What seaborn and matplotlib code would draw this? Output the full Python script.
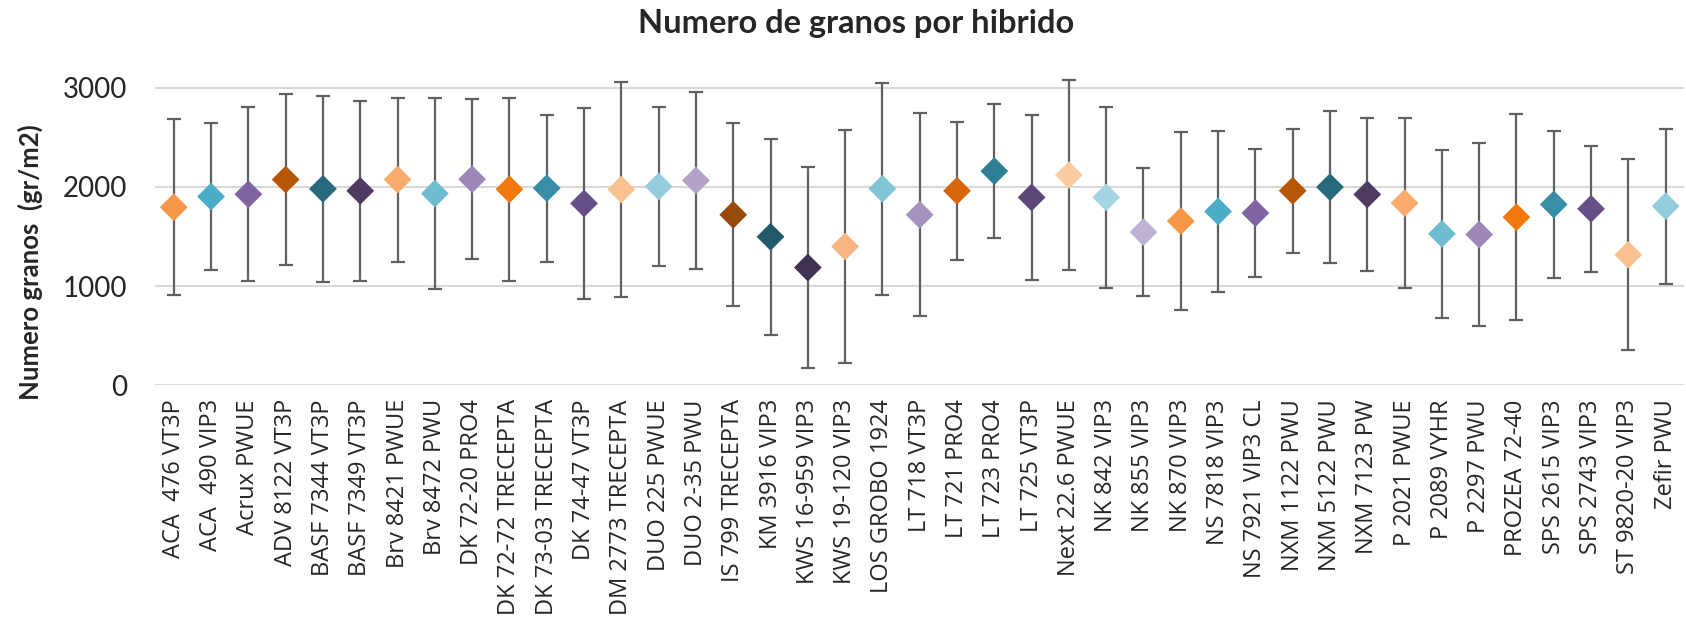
import matplotlib
matplotlib.use("Agg")
import matplotlib.pyplot as plt
import numpy as np
import pandas as pd
import seaborn as sns

# Hybrid names (x axis)
hibridos = [
    "ACA  476 VT3P", "ACA  490 VIP3", "Acrux PWUE", "ADV 8122 VT3P",
    "BASF 7344 VT3P", "BASF 7349 VT3P", "Brv 8421 PWUE", "Brv 8472 PWU",
    "DK 72-20 PRO4", "DK 72-72 TRECEPTA", "DK 73-03 TRECEPTA", "DK 74-47 VT3P",
    "DM 2773 TRECEPTA", "DUO 225 PWUE", "DUO 2-35 PWU", "IS 799 TRECEPTA",
    "KM 3916 VIP3", "KWS 16-959 VIP3", "KWS 19-120 VIP3", "LOS GROBO 1924",
    "LT 718 VT3P", "LT 721 PRO4", "LT 723 PRO4", "LT 725 VT3P",
    "Next 22.6 PWUE", "NK 842 VIP3", "NK 855 VIP3", "NK 870 VIP3",
    "NS 7818 VIP3", "NS 7921 VIP3 CL", "NXM 1122 PWU", "NXM 5122 PWU",
    "NXM 7123 PW", "P 2021 PWUE", "P 2089 VYHR", "P 2297 PWU",
    "PROZEA 72-40", "SPS 2615 VIP3", "SPS 2743 VIP3", "ST 9820-20 VIP3",
    "Zefir PWU",
]

# Mean number of grains (gr/m2)
media = [
    1795, 1902, 1926, 2074, 1980, 1960, 2074, 1933, 2077, 1976,
    1987, 1833, 1974, 2005, 2065, 1719, 1497, 1187, 1399, 1981,
    1719, 1961, 2159, 1894, 2119, 1894, 1544, 1655, 1752, 1736,
    1961, 1998, 1924, 1837, 1527, 1520, 1695, 1823, 1779, 1315,
    1806,
]

# Error bar half-length
desvio = [
    888, 744, 878, 865, 938, 906, 827, 961, 805, 922,
    740, 962, 1083, 802, 896, 923, 987, 1015, 1175, 1068,
    1021, 698, 676, 829, 954, 916, 647, 894, 809, 644,
    624, 762, 767, 857, 847, 920, 1036, 745, 637, 963,
    780,
]

# Marker colours (Excel-like accent shades)
colores = [
    "#F79646", "#4BACC6", "#8064A2", "#B65708", "#276A7C", "#4D3B62",
    "#F9AB6B", "#6FBCD1", "#9C87B9", "#F2780D", "#378EA6", "#664F86",
    "#FAC090", "#93CDDD", "#B2A2C7", "#984807", "#215968", "#3F3151",
    "#F9B57F", "#82C5D6", "#A592BF", "#D9650A", "#2E7E94", "#5C4779",
    "#FBCBA2", "#A5D5E2", "#BFB1D3",
    "#F79646", "#4BACC6", "#8064A2", "#B65708", "#276A7C", "#4D3B62",
    "#F9AB6B", "#6FBCD1", "#9C87B9", "#F2780D", "#378EA6", "#664F86",
    "#FAC090", "#93CDDD",
]

df = pd.DataFrame({"hibrido": hibridos, "media": media, "desvio": desvio})

sns.set_style("white")
plt.rcParams["font.family"] = ["Lato", "DejaVu Sans"]

fig = plt.figure(figsize=(16.86, 6.40), dpi=100)
ax = fig.add_axes([0.092, 0.398, 0.907, 0.496])

# error bars behind the markers
ax.errorbar(
    range(len(df)), df["media"], yerr=df["desvio"], fmt="none",
    ecolor="#606060", elinewidth=1.6, capsize=5, capthick=1.6, zorder=2,
)

sns.scatterplot(
    data=df, x="hibrido", y="media", hue="hibrido", palette=colores,
    marker="D", s=200, edgecolor="none", legend=False, zorder=3, ax=ax,
)

ax.set_ylim(0, 3200)
ax.set_xlim(-0.5, len(df) - 0.5)
ax.set_yticks([0, 1000, 2000, 3000])
ax.yaxis.grid(True, color="#D9D9D9", linewidth=1.5)
ax.set_axisbelow(True)
for s in ax.spines.values():
    s.set_visible(False)

ax.tick_params(axis="both", length=0)
ax.tick_params(axis="y", labelsize=20, pad=20)
ax.tick_params(axis="x", pad=10)
ax.set_xticks(range(len(df)))
ax.set_xticklabels(hibridos, rotation=90, fontsize=17, family="Open Sans")
ax.set_xlabel("")
ax.set_ylabel("")

fig.text(0.508, 0.964, "Numero de granos por hibrido", ha="center", va="center",
         fontsize=23.5, fontweight="bold")
fig.text(0.018, 0.59, "Numero granos  (gr/m2)", ha="center", va="center",
         rotation=90, fontsize=18.5, fontweight="bold")

fig.savefig("out.png", dpi=100)
